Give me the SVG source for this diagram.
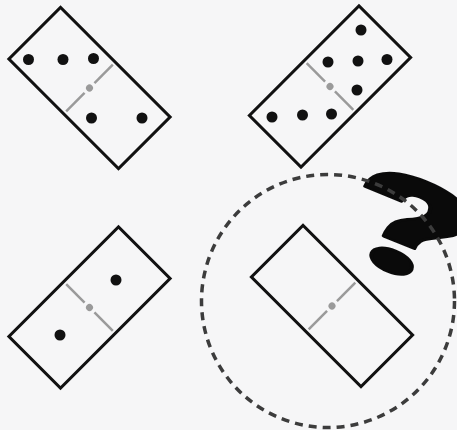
<svg xmlns="http://www.w3.org/2000/svg" width="457" height="430" viewBox="0 0 457 430">
<style>
.tile{fill:none;stroke:#111;stroke-width:3;stroke-linejoin:miter}
.div{stroke:#9a9a9a;stroke-width:2.5;stroke-linecap:butt}
.cdot{fill:#9a9a9a}
.pip{fill:#111}
.ring{fill:none;stroke:#3c3c3c;stroke-width:3.5;stroke-dasharray:8 6}
.qm{font-family:Roboto,"Open Sans",sans-serif;font-weight:900;fill:#0a0a0a;stroke:#0a0a0a;stroke-width:2.5;stroke-linejoin:round}
</style>
<rect width="457" height="430" fill="#f6f6f7"/>
<g id="domino-top-left">
<g transform="translate(89.5,88) rotate(45)">
<rect class="tile" x="-77.5" y="-36.5" width="155" height="73"/>
<line class="div" x1="0" y1="-33" x2="0" y2="-7"/>
<line class="div" x1="0" y1="7" x2="0" y2="33"/>
<circle class="cdot" cx="0" cy="0" r="3.5"/>
</g>
<circle class="pip" cx="28.5" cy="59.5" r="5.5"/>
<circle class="pip" cx="63" cy="59.5" r="5.5"/>
<circle class="pip" cx="93.5" cy="58.5" r="5.5"/>
<circle class="pip" cx="91.5" cy="118" r="5.5"/>
<circle class="pip" cx="142" cy="118" r="5.5"/>
</g>
<g id="domino-top-right">
<g transform="translate(330,86.5) rotate(-45)">
<rect class="tile" x="-77.5" y="-36.5" width="155" height="73"/>
<line class="div" x1="0" y1="-33" x2="0" y2="-7"/>
<line class="div" x1="0" y1="7" x2="0" y2="33"/>
<circle class="cdot" cx="0" cy="0" r="3.5"/>
</g>
<circle class="pip" cx="361" cy="30" r="5.5"/>
<circle class="pip" cx="328" cy="62" r="5.5"/>
<circle class="pip" cx="358" cy="61" r="5.5"/>
<circle class="pip" cx="387" cy="59.5" r="5.5"/>
<circle class="pip" cx="357" cy="90" r="5.5"/>
<circle class="pip" cx="272" cy="117" r="5.5"/>
<circle class="pip" cx="302.5" cy="115" r="5.5"/>
<circle class="pip" cx="331.5" cy="114" r="5.5"/>
</g>
<g id="domino-bottom-left">
<g transform="translate(89.5,307.5) rotate(-45)">
<rect class="tile" x="-77.5" y="-36.5" width="155" height="73"/>
<line class="div" x1="0" y1="-33" x2="0" y2="-7"/>
<line class="div" x1="0" y1="7" x2="0" y2="33"/>
<circle class="cdot" cx="0" cy="0" r="3.5"/>
</g>
<circle class="pip" cx="116" cy="280" r="5.5"/>
<circle class="pip" cx="60" cy="335" r="5.5"/>
</g>
<g id="question">
<text class="qm" font-size="142" text-anchor="middle" transform="translate(391,272) rotate(22) scale(1.65,0.95)">?</text>
</g>
<g id="domino-blank">
<g transform="translate(332,306) rotate(45)">
<rect class="tile" x="-77.5" y="-36.5" width="155" height="73"/>
<line class="div" x1="0" y1="-33" x2="0" y2="-7"/>
<line class="div" x1="0" y1="7" x2="0" y2="33"/>
<circle class="cdot" cx="0" cy="0" r="3.5"/>
</g>
</g>
<g id="connectors">
<circle class="ring" cx="328" cy="301" r="126.5"/>
</g>
</svg>
